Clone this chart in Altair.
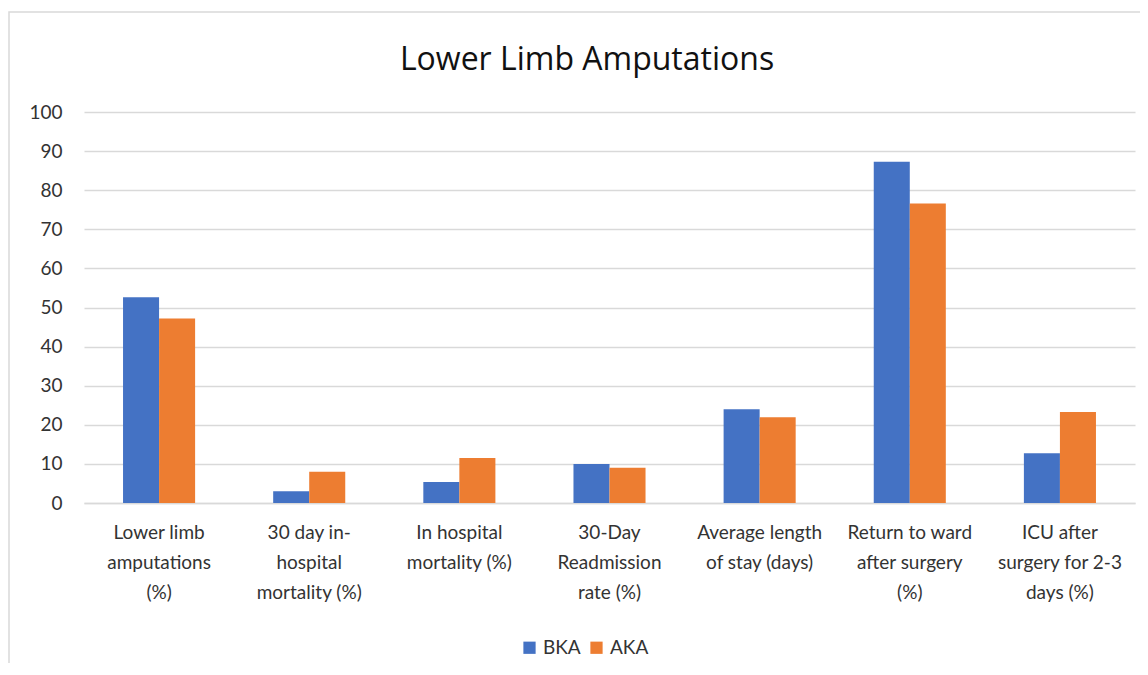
import altair as alt
import pandas as pd

categories = [
    "Lower limb|amputations|(%)",
    "30 day in-|hospital|mortality (%)",
    "In hospital|mortality (%)",
    "30-Day|Readmission|rate (%)",
    "Average length|of stay (days)",
    "Return to ward|after surgery|(%)",
    "ICU after|surgery for 2-3|days (%)",
]
bka = [52.6, 3.0, 5.4, 10.0, 24.0, 87.3, 12.7]
aka = [47.2, 8.0, 11.5, 9.0, 21.9, 76.6, 23.3]
series = ["BKA", "AKA"]
y_ticks = list(range(0, 101, 10))

rows = []
for c, b, a in zip(categories, bka, aka):
    rows.append({"cat": c, "series": "BKA", "value": b})
    rows.append({"cat": c, "series": "AKA", "value": a})
df = pd.DataFrame(rows)

W, H = 1051, 391
FONT = "Lato"
TXT = "#333333"

bars = alt.Chart(df).mark_bar().encode(
    x=alt.X("cat:N", sort=categories, title=None,
            scale=alt.Scale(paddingInner=0.52, paddingOuter=0.26),
            axis=alt.Axis(labelExpr="split(datum.label, '|')", labelAngle=0,
                          labelFontSize=19, labelFont=FONT, labelColor=TXT,
                          labelBaseline="top", labelPadding=20, labelLineHeight=30,
                          ticks=False, domainColor="#d9d9d9", domainWidth=1.5,
                          labelLimit=300)),
    xOffset=alt.XOffset("series:N", sort=series, scale=alt.Scale(paddingInner=0, paddingOuter=0)),
    y=alt.Y("value:Q", title=None,
            scale=alt.Scale(domain=[0, 100], nice=False),
            axis=alt.Axis(values=y_ticks, labelFontSize=19, labelFont=FONT,
                          labelColor=TXT, labelPadding=22, ticks=False,
                          domain=False, gridColor="#d9d9d9", gridWidth=1.5)),
    color=alt.Color("series:N", sort=series,
                    scale=alt.Scale(domain=series, range=["#4472C4", "#ED7D31"]),
                    legend=alt.Legend(title=None, orient="none", direction="horizontal",
                                      legendX=436, legendY=526, symbolType="square",
                                      symbolSize=150, symbolStrokeWidth=0,
                                      labelFontSize=19, labelFont=FONT,
                                      labelColor=TXT, columnPadding=6,
                                      labelOffset=4)),
)

border = alt.Chart(pd.DataFrame({"a": [0]})).mark_rect(
    fill=None, stroke="#d9d9d9", strokeWidth=1.5
).encode(
    x=alt.value(-75), x2=alt.value(W + 30),
    y=alt.value(-100), y2=alt.value(H + 165),
)

chart = alt.layer(border, bars).properties(
    width=W, height=H,
    title=alt.Title("Lower Limb Amputations", fontSize=32, font="Open Sans",
                    fontWeight="normal", color="#111111", offset=-66,
                    anchor="middle", frame="bounds"),
    autosize=alt.AutoSizeParams(type="none"),
    padding={"left": 76, "top": 104, "right": 5, "bottom": 160},
).configure_view(stroke=None)

chart.save("out.html", embed_options={"renderer": "svg", "actions": False})
